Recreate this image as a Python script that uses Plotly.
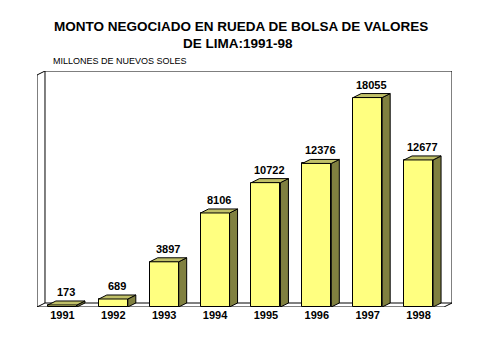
import plotly.graph_objects as go

years = ["1991", "1992", "1993", "1994", "1995", "1996", "1997", "1998"]
values = [173, 689, 3897, 8106, 10722, 12376, 18055, 12677]

title_line1 = "MONTO NEGOCIADO EN RUEDA DE BOLSA DE VALORES"
title_line2 = "DE LIMA:1991-98"
unit_label = "MILLONES DE NUEVOS SOLES"

FRONT = "#FFFF80"
SIDE = "#808040"
TOP = "#C0C068"
FONT = "Arial, Liberation Sans, sans-serif"

ymax = 20000
dx = 0.157   # 3D depth along x (category units)
dy = 345     # 3D depth along y (value units)
bw = 0.57
xs = list(range(len(years)))

fig = go.Figure()

# front faces
fig.add_trace(go.Bar(x=xs, y=values, width=bw, marker=dict(color=FRONT, line=dict(color="black", width=1)),
                     hoverinfo="skip", showlegend=False))

# side faces and tops
sx, sy, tx, ty = [], [], [], []
for x, v in zip(xs, values):
    r = x + bw / 2
    l = x - bw / 2
    sx += [r, r + dx, r + dx, r, r, None]
    sy += [0, dy, v + dy, v, 0, None]
    tx += [l, l + dx, r + dx, r, l, None]
    ty += [v, v + dy, v + dy, v, v, None]
fig.add_trace(go.Scatter(x=sx, y=sy, mode="lines", fill="toself", fillcolor=SIDE,
                         line=dict(color="black", width=1), hoverinfo="skip", showlegend=False))
fig.add_trace(go.Scatter(x=tx, y=ty, mode="lines", fill="toself", fillcolor=TOP,
                         line=dict(color="black", width=1), hoverinfo="skip", showlegend=False))

# frame (walls and floor)
x0, x1 = -0.5, len(years) - 0.5
frame = [
    (x0, 0, x0, ymax), (x0, ymax, x0 + dx, ymax + dy), (x0 + dx, ymax + dy, x1 + dx, ymax + dy),
    (x1 + dx, dy, x1 + dx, ymax + dy), (x0 + dx, dy, x0 + dx, ymax + dy),
    (x0, 0, x1, 0), (x1, 0, x1 + dx, dy), (x0 + dx, dy, x1 + dx, dy), (x0, 0, x0 + dx, dy),
]
for a, b, c, d in frame:
    fig.add_shape(type="line", x0=a, y0=b, x1=c, y1=d, xref="x", yref="y",
                  line=dict(color="black", width=1), layer="below")

# value labels
for x, v in zip(xs, values):
    fig.add_annotation(x=x + dx / 2, y=v + dy, text=f"{v}", showarrow=False, yanchor="bottom", yshift=1,
                       font=dict(family=FONT, size=11, color="black", weight="bold"))

OFF = 8  # page body margin
# titles (page pixel positions)
fig.add_annotation(x=241, y=26, xref="paper", yref="paper", text=title_line1, showarrow=False,
                   xanchor="center", yanchor="middle",
                   font=dict(family=FONT, size=13.5, color="black", weight="bold"))
fig.add_annotation(x=238, y=43, xref="paper", yref="paper", text=title_line2, showarrow=False,
                   xanchor="center", yanchor="middle",
                   font=dict(family=FONT, size=13.5, color="black", weight="bold"))
fig.add_annotation(x=51, y=61, xref="paper", yref="paper", text=unit_label, showarrow=False,
                   xanchor="left", yanchor="middle",
                   font=dict(family=FONT, size=9, color="black"))

W, H = 477 - OFF, 356 - OFF
ml, mt = 37 - OFF, 71 - OFF
mr = W - (452 - OFF)
mb = H - (307 - OFF)
pw, ph = W - ml - mr, H - mt - mb
for ann in fig.layout.annotations:
    if ann.xref == "paper":
        ann.x = (ann.x - OFF - ml) / pw
        ann.y = 1 - (ann.y - OFF - mt) / ph

fig.update_layout(
    width=W, height=H, margin=dict(l=ml, r=mr, t=mt, b=mb, autoexpand=False),
    paper_bgcolor="white", plot_bgcolor="white",
    xaxis=dict(range=[x0, x1 + dx], tickvals=xs, ticktext=years, showgrid=False, zeroline=False,
               showline=False, ticks="", tickfont=dict(family=FONT, size=11, color="black", weight="bold")),
    yaxis=dict(range=[0, ymax + dy], visible=False, showgrid=False),
    bargap=0,
)
fig.write_html("out.html")
